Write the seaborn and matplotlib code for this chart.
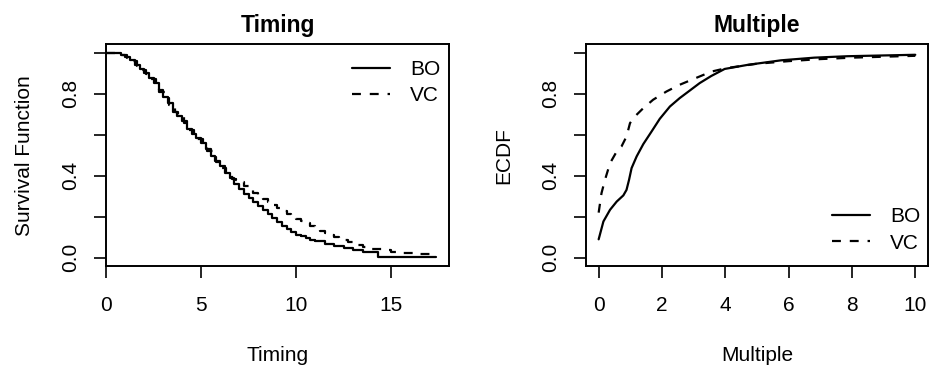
import matplotlib
matplotlib.use("Agg")
import matplotlib.pyplot as plt
import seaborn as sns
import pandas as pd

# ---- Timing panel: Kaplan-Meier survival (step) ----
bo_time = [0.0, 0.5, 0.8, 1.0, 1.25, 1.5, 1.75, 2.0, 2.25, 2.5, 2.75, 3.0, 3.25, 3.5, 3.75,
           4.0, 4.25, 4.5, 4.75, 5.0, 5.25, 5.5, 5.75, 6.0, 6.25, 6.5, 6.75, 7.0, 7.25, 7.5,
           7.75, 8.0, 8.25, 8.5, 8.75, 9.0, 9.25, 9.5, 9.75, 10.0, 10.25, 10.5, 10.75, 11.0,
           11.5, 12.0, 12.5, 13.0, 13.5, 14.3, 17.35]
bo_surv = [1.000, 0.998, 0.990, 0.980, 0.962, 0.940, 0.918, 0.900, 0.875, 0.850, 0.815, 0.785,
           0.752, 0.712, 0.690, 0.665, 0.628, 0.605, 0.585, 0.560, 0.530, 0.497, 0.470, 0.445,
           0.415, 0.388, 0.360, 0.335, 0.312, 0.292, 0.272, 0.252, 0.232, 0.212, 0.192, 0.175,
           0.153, 0.140, 0.127, 0.112, 0.104, 0.096, 0.089, 0.081, 0.068, 0.058, 0.046, 0.036,
           0.026, 0.004, 0.004]
vc_time = [0.0, 0.4, 0.75, 1.1, 1.3, 1.6, 1.8, 2.1, 2.3, 2.6, 2.8, 3.1, 3.3, 3.6, 3.8,
           4.1, 4.3, 4.6, 4.8, 5.1, 5.3, 5.6, 5.8, 6.1, 6.3, 6.6, 6.85, 7.0, 7.25, 7.5, 7.75,
           8.0, 8.25, 8.5, 8.75, 9.0, 9.25, 9.5, 9.75, 10.0, 10.25, 10.5, 10.75, 11.0, 11.25,
           11.5, 11.75, 12.0, 12.25, 12.5, 12.75, 13.0, 13.25, 13.5, 13.75, 14.0, 14.5, 15.0,
           15.5, 16.0, 16.5, 17.0, 17.35]
vc_surv = [1.000, 0.997, 0.988, 0.975, 0.958, 0.935, 0.915, 0.893, 0.870, 0.842, 0.810, 0.778,
           0.745, 0.708, 0.685, 0.656, 0.622, 0.600, 0.578, 0.552, 0.522, 0.492, 0.465, 0.438,
           0.410, 0.385, 0.380, 0.370, 0.350, 0.335, 0.318, 0.300, 0.285, 0.270, 0.255, 0.242,
           0.228, 0.215, 0.200, 0.187, 0.177, 0.168, 0.155, 0.143, 0.132, 0.122, 0.112, 0.103,
           0.094, 0.086, 0.079, 0.072, 0.063, 0.055, 0.050, 0.045, 0.037, 0.030, 0.025, 0.021,
           0.019, 0.018, 0.018]

# ---- Multiple panel: ECDF ----
bo_mult = [0.0, 0.15, 0.36, 0.57, 0.78, 0.88, 0.96, 1.04, 1.2, 1.41, 1.67, 1.93, 2.25, 2.56,
           2.88, 3.19, 3.56, 3.98, 4.71, 5.76, 6.81, 7.86, 10.0]
bo_ecdf = [0.09, 0.177, 0.234, 0.274, 0.304, 0.331, 0.38, 0.437, 0.494, 0.554, 0.615, 0.677,
           0.737, 0.778, 0.815, 0.851, 0.886, 0.92, 0.94, 0.962, 0.975, 0.982, 0.989]
vc_mult = [0.0, 0.09, 0.2, 0.36, 0.57, 0.72, 0.88, 0.99, 1.14, 1.41, 1.72, 2.14, 2.56, 2.98,
           3.56, 4.03, 4.98, 6.0, 7.0, 8.0, 10.0]
vc_ecdf = [0.22, 0.315, 0.38, 0.461, 0.518, 0.542, 0.591, 0.656, 0.688, 0.729, 0.77, 0.81,
           0.843, 0.87, 0.907, 0.924, 0.945, 0.958, 0.968, 0.975, 0.984]

groups = ["BO", "VC"]
timing_xticks = [0, 5, 10, 15]
multiple_xticks = [0, 2, 4, 6, 8, 10]
yticks = [0.0, 0.2, 0.4, 0.6, 0.8, 1.0]
ytick_labels = ["0.0", "", "0.4", "", "0.8", ""]

sns.set_style("white")
plt.rcParams["font.family"] = ["Liberation Sans", "DejaVu Sans"]
plt.rcParams["axes.linewidth"] = 1.4
plt.rcParams["text.color"] = "black"
plt.rcParams["axes.labelcolor"] = "black"
plt.rcParams["xtick.color"] = "black"
plt.rcParams["ytick.color"] = "black"

FS = 15
LW = 1.6
fig = plt.figure(figsize=(9.3, 3.65), dpi=100)
ax1 = fig.add_axes([0.1143, 0.2712, 0.3685, 0.6074])
ax2 = fig.add_axes([0.6301, 0.2712, 0.3677, 0.6074])

df_t = pd.concat([
    pd.DataFrame({"x": bo_time, "y": bo_surv, "g": groups[0]}),
    pd.DataFrame({"x": vc_time, "y": vc_surv, "g": groups[1]}),
])
df_m = pd.concat([
    pd.DataFrame({"x": bo_mult, "y": bo_ecdf, "g": groups[0]}),
    pd.DataFrame({"x": vc_mult, "y": vc_ecdf, "g": groups[1]}),
])

styles = {"BO": "", "VC": (4, 4)}
for ax, df, step in [(ax1, df_t, True), (ax2, df_m, False)]:
    kw = {"drawstyle": "steps-post"} if step else {}
    sns.lineplot(data=df, x="x", y="y", hue="g", style="g", palette=["black", "black"],
                 dashes=styles, estimator=None, sort=False, linewidth=LW, ax=ax,
                 legend=False, **kw)

def dress(ax, xticks, xlim, title, xlabel, ylabel, leg_xy):
    ax.set_xlim(*xlim)
    ax.set_ylim(-0.04, 1.04)
    ax.set_xticks(xticks)
    ax.set_xticklabels([str(v) for v in xticks], fontsize=FS)
    ax.set_yticks(yticks)
    ax.set_yticklabels(ytick_labels, fontsize=FS, rotation=90, va="center")
    ax.tick_params(axis="both", direction="out", length=8.6, width=1.2, color="black",
                   bottom=True, left=True, top=False, right=False, labelcolor="black")
    ax.tick_params(axis="x", pad=13)
    ax.tick_params(axis="y", pad=10)
    for s in ax.spines.values():
        s.set_visible(True)
        s.set_color("black")
    ax.set_title(title, fontsize=16.5, fontweight="bold", pad=9, color="black")
    ax.set_xlabel(xlabel, fontsize=FS, labelpad=22, color="black")
    ax.set_ylabel(ylabel, fontsize=FS, labelpad=20, color="black")
    handles = [plt.Line2D([], [], color="black", lw=LW),
               plt.Line2D([], [], color="black", lw=LW, dashes=(4, 4))]
    ax.legend(handles, groups, loc="upper left", bbox_to_anchor=leg_xy, frameon=False,
              fontsize=FS, handlelength=1.85, handletextpad=0.95, labelspacing=0.35,
              borderpad=0, borderaxespad=0, labelcolor="black")

dress(ax1, timing_xticks, (0, 18.05), "Timing", "Timing", "Survival Function", (0.716, 0.93))
dress(ax2, multiple_xticks, (-0.4, 10.4), "Multiple", "Multiple", "ECDF", (0.718, 0.265))

fig.savefig("out.png", dpi=100)
